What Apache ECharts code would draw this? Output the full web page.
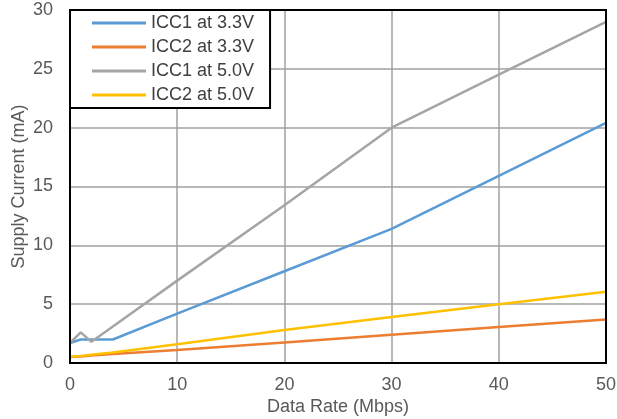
<!DOCTYPE html>
<html><head><meta charset="utf-8">
<script src="https://cdn.jsdelivr.net/npm/echarts@6/dist/echarts.min.js"></script>
<style>html,body{margin:0;padding:0;background:#fff}#c{width:617px;height:419px}</style>
</head><body><div id="c"></div>
<script>
const xs = [0, 1, 2, 4, 10, 20, 30, 40, 50];
const icc1_33 = [1.7, 2.0, 2.0, 2.0, 4.2, 7.8, 11.4, 15.9, 20.4];
const icc2_33 = [0.5, 0.56, 0.63, 0.76, 1.1, 1.75, 2.4, 3.05, 3.7];
const icc1_50 = [1.7, 2.6, 1.8, 3.1, 7.0, 13.4, 20.0, 24.5, 29.0];
const icc2_50 = [0.5, 0.6, 0.7, 0.9, 1.6, 2.8, 3.9, 5.0, 6.05];
const names = ['ICC1 at 3.3V', 'ICC2 at 3.3V', 'ICC1 at 5.0V', 'ICC2 at 5.0V'];
const colors = ['#5B9BD5', '#ED7D31', '#A5A5A5', '#FFC000'];
const yTicks = [0, 5, 10, 15, 20, 25, 30];
const xTicks = [0, 10, 20, 30, 40, 50];
const all = [icc1_33, icc2_33, icc1_50, icc2_50];
const font = 'Liberation Sans, Arial, sans-serif';
const chart = echarts.init(document.getElementById('c'));
chart.setOption({
  animation: false,
  textStyle: {fontFamily: font},
  grid: {left: 70, right: 11, top: 10, bottom: 56, show: true, borderColor: '#000', borderWidth: 2, z: 5,
         containLabel: false, outerBoundsMode: 'none'},
  legend: {
    orient: 'vertical', left: 70, top: 10,
    backgroundColor: '#fff', borderColor: '#000', borderWidth: 2,
    padding: [4, 16, 4, 22], itemGap: 6, itemWidth: 54, itemHeight: 3,
    icon: 'rect', z: 10,
    textStyle: {fontSize: 18, color: '#404040', fontFamily: font, lineHeight: 18},
    data: names
  },
  xAxis: {
    type: 'value', min: 0, max: 50, interval: 10,
    name: 'Data Rate (Mbps)', nameLocation: 'middle', nameGap: 35, nameMoveOverlap: false,
    nameTextStyle: {fontSize: 18, color: '#595959'},
    axisLine: {show: false}, axisTick: {show: false},
    axisLabel: {fontSize: 18, color: '#595959', margin: 13},
    splitLine: {show: true, lineStyle: {color: '#A0A0A0', width: 1.5}}
  },
  yAxis: {
    type: 'value', min: 0, max: 30, interval: 5,
    name: 'Supply Current (mA)', nameLocation: 'middle', nameGap: 42, nameMoveOverlap: false,
    nameTextStyle: {fontSize: 18, color: '#595959'},
    axisLine: {show: false}, axisTick: {show: false},
    axisLabel: {fontSize: 18, color: '#595959', margin: 17},
    splitLine: {show: true, lineStyle: {color: '#A0A0A0', width: 1.5}}
  },
  series: all.map((d, i) => ({
    name: names[i], type: 'line', showSymbol: false, symbol: 'none',
    color: colors[i], lineStyle: {width: 2.5, color: colors[i]},
    data: xs.map((x, j) => [x, d[j]]), z: 3
  }))
});
</script></body></html>
